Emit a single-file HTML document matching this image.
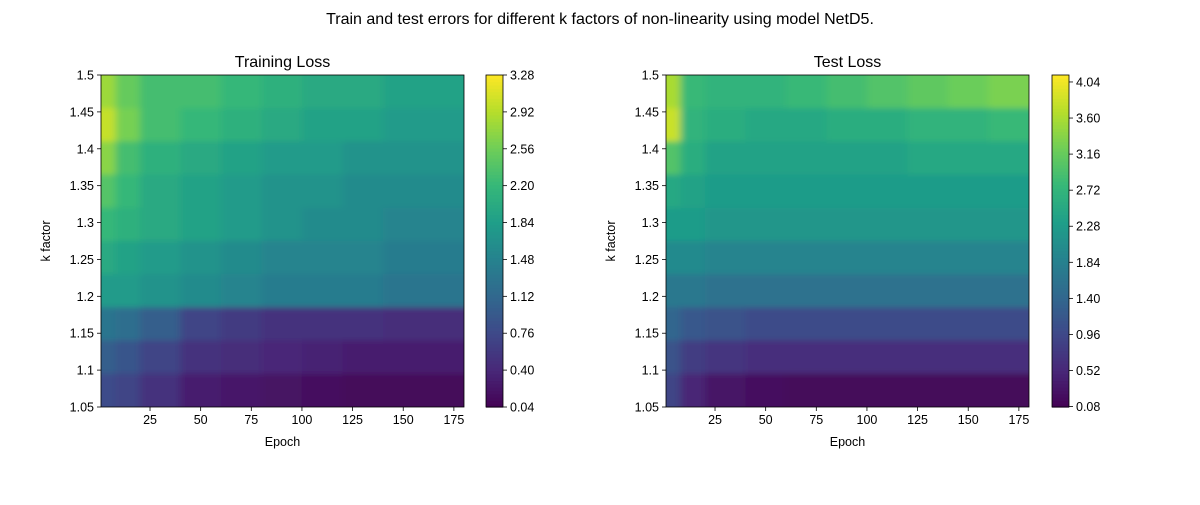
<!DOCTYPE html>
<html><head><meta charset="utf-8"><style>
body{margin:0;background:#fff;font-family:"Liberation Sans",sans-serif;}
svg text{font-family:"Liberation Sans",sans-serif;fill:#000;}
</style></head><body>
<svg id="fig" width="1200" height="500" viewBox="0 0 1200 500" xmlns="http://www.w3.org/2000/svg">
<defs>
<filter id="blur" x="0" y="0" width="1" height="1"><feGaussianBlur stdDeviation="4 3"/></filter>
<clipPath id="clipL"><rect x="101" y="75" width="363" height="332"/></clipPath>
<clipPath id="clipR"><rect x="666" y="75" width="363" height="332"/></clipPath>
</defs>
<text x="600" y="24" font-size="16" text-anchor="middle">Train and test errors for different k factors of non-linearity using model NetD5.</text>
</svg>
<script>
const kFactors = [1.5,1.45,1.4,1.35,1.3,1.25,1.2,1.15,1.1,1.05];
const epochBins = [1,8,20,40,60,80,100,120,140,160,180];
const trainLoss = [
[2.8,2.5,2.3,2.3,2.2,2.1,2.0,2.0,1.9,1.9],
[3.0,2.6,2.3,2.2,2.1,2.0,1.9,1.9,1.8,1.8],
[2.7,2.3,2.1,2.0,1.9,1.8,1.8,1.7,1.7,1.7],
[2.4,2.2,2.0,1.9,1.8,1.7,1.7,1.6,1.6,1.6],
[2.2,2.1,2.0,1.9,1.8,1.7,1.6,1.6,1.5,1.5],
[2.0,1.9,1.8,1.7,1.6,1.5,1.5,1.5,1.4,1.4],
[1.8,1.8,1.7,1.6,1.5,1.4,1.4,1.4,1.3,1.3],
[1.3,1.2,1.0,0.7,0.6,0.5,0.5,0.5,0.45,0.45],
[1.0,0.9,0.7,0.5,0.45,0.4,0.35,0.3,0.3,0.3],
[0.8,0.7,0.5,0.3,0.25,0.2,0.15,0.1,0.1,0.1]];
const testLoss = [
[3.6,2.8,2.7,2.7,2.8,2.9,3.0,3.1,3.2,3.3],
[3.8,2.7,2.6,2.5,2.5,2.6,2.6,2.7,2.7,2.8],
[3.0,2.6,2.4,2.4,2.4,2.4,2.4,2.5,2.5,2.5],
[2.5,2.4,2.3,2.3,2.3,2.3,2.3,2.3,2.3,2.3],
[2.3,2.3,2.2,2.2,2.2,2.2,2.2,2.2,2.2,2.2],
[2.0,2.0,1.9,1.9,1.9,1.9,1.9,1.9,1.9,1.9],
[1.7,1.7,1.6,1.6,1.6,1.6,1.6,1.6,1.6,1.6],
[1.4,1.2,1.1,1.0,1.0,1.0,1.0,1.0,1.0,1.0],
[1.1,0.8,0.7,0.6,0.6,0.6,0.6,0.6,0.6,0.6],
[0.9,0.5,0.3,0.2,0.15,0.15,0.15,0.15,0.15,0.15]];
const xTicks = [25,50,75,100,125,150,175];
const yTicks = ["1.05","1.1","1.15","1.2","1.25","1.3","1.35","1.4","1.45","1.5"];
const cbTicksTrain = ["0.04","0.40","0.76","1.12","1.48","1.84","2.20","2.56","2.92","3.28"];
const cbTicksTest = ["0.08","0.52","0.96","1.40","1.84","2.28","2.72","3.16","3.60","4.04"];

const VIR=["#440154","#482878","#3e4989","#31688e","#26828e","#1f9e89","#35b779","#6ece58","#b5de2b","#fde725"];
function hx(c){return [1,3,5].map(i=>parseInt(c.substr(i,2),16));}
function viridis(t){t=Math.max(0,Math.min(1,t));const p=t*(VIR.length-1);const i=Math.min(VIR.length-2,Math.floor(p));const f=p-i;const a=hx(VIR[i]),b=hx(VIR[i+1]);return "rgb("+a.map((v,j)=>Math.round(v+(b[j]-v)*f)).join(",")+")";}
const NS="http://www.w3.org/2000/svg";
const svg=document.getElementById("fig");
function mk(tag,attrs,parent){const e=document.createElementNS(NS,tag);for(const k in attrs)e.setAttribute(k,attrs[k]);(parent||svg).appendChild(e);return e;}

function panel(ox,title,data,vmin,vmax,cbTicks,cbx,clip,nm){
  const X0=ox,X1=ox+363,Y0=75,Y1=407;
  const xs=e=>X0+(e-0.8)/(180-0.8)*(X1-X0);
  const ys=k=>Y1-(k-1.05)/(1.5-1.05)*(Y1-Y0);
  const rowH=(Y1-Y0)/kFactors.length;
  const g=mk("g",{"clip-path":"url(#"+clip+")"});
  
  
  const inner=mk("g",{filter:"url(#blur)"},g);
  data.forEach((row,r)=>{
    row.forEach((v,c)=>{
      const x0=c===0?X0-20:xs(epochBins[c]);
      const x1=c===row.length-1?X1+20:xs(epochBins[c+1]);
      let y0=Y0+r*rowH-(r===0?20:0), y1=Y0+(r+1)*rowH+(r===kFactors.length-1?20:0);
      const rc=mk("rect",{x:x0,y:y0,width:x1-x0+0.5,height:y1-y0+0.5,fill:viridis((v-vmin)/(vmax-vmin))},inner);
      
      
    });
  });
  mk("rect",{x:X0,y:Y0,width:X1-X0,height:Y1-Y0,fill:"none",stroke:"#000","stroke-width":0.8});
  const t=mk("text",{x:(X0+X1)/2,y:67,"font-size":16,"text-anchor":"middle"});t.textContent=title;
  
  
  xTicks.forEach(v=>{const x=xs(v);mk("line",{x1:x,x2:x,y1:Y1,y2:Y1+4,stroke:"#000","stroke-width":0.8});
    const l=mk("text",{x:x,y:Y1+17,"font-size":12.5,"text-anchor":"middle"});l.textContent=v;
    
    });
  yTicks.forEach(v=>{const y=ys(parseFloat(v));mk("line",{x1:X0-4,x2:X0,y1:y,y2:y,stroke:"#000","stroke-width":0.8});
    const l=mk("text",{x:X0-7,y:y+4.5,"font-size":12.5,"text-anchor":"end"});l.textContent=v;
    
    });
  const xl=mk("text",{x:(X0+X1)/2,y:446,"font-size":12.5,"text-anchor":"middle"});xl.textContent="Epoch";
  
  
  const yl=mk("text",{x:0,y:0,"font-size":12.5,"text-anchor":"middle",transform:"translate("+(X0-51)+",241) rotate(-90)"});yl.textContent="k factor";
  
  
  const cw=17,N=100;
  const cb=mk("g",{});
  
  
  for(let i=0;i<N;i++){const y=Y1-(i+1)*(Y1-Y0)/N;mk("rect",{x:cbx,y:y,width:cw,height:(Y1-Y0)/N+0.6,fill:viridis((i+0.5)/N)},cb);}
  mk("rect",{x:cbx,y:Y0,width:cw,height:Y1-Y0,fill:"none",stroke:"#000","stroke-width":0.8},cb);
  cbTicks.forEach(s=>{const v=parseFloat(s);const y=Y1-(v-vmin)/(vmax-vmin)*(Y1-Y0);
    mk("line",{x1:cbx+cw,x2:cbx+cw+4,y1:y,y2:y,stroke:"#000","stroke-width":0.8},cb);
    const l=mk("text",{x:cbx+cw+7,y:y+4.5,"font-size":12.5},cb);l.textContent=s;
    
    });
}
panel(101,"Training Loss",trainLoss,0.04,3.28,cbTicksTrain,486,"clipL","train");
panel(666,"Test Loss",testLoss,0.075,4.125,cbTicksTest,1052,"clipR","test");
</script>
</body></html>
